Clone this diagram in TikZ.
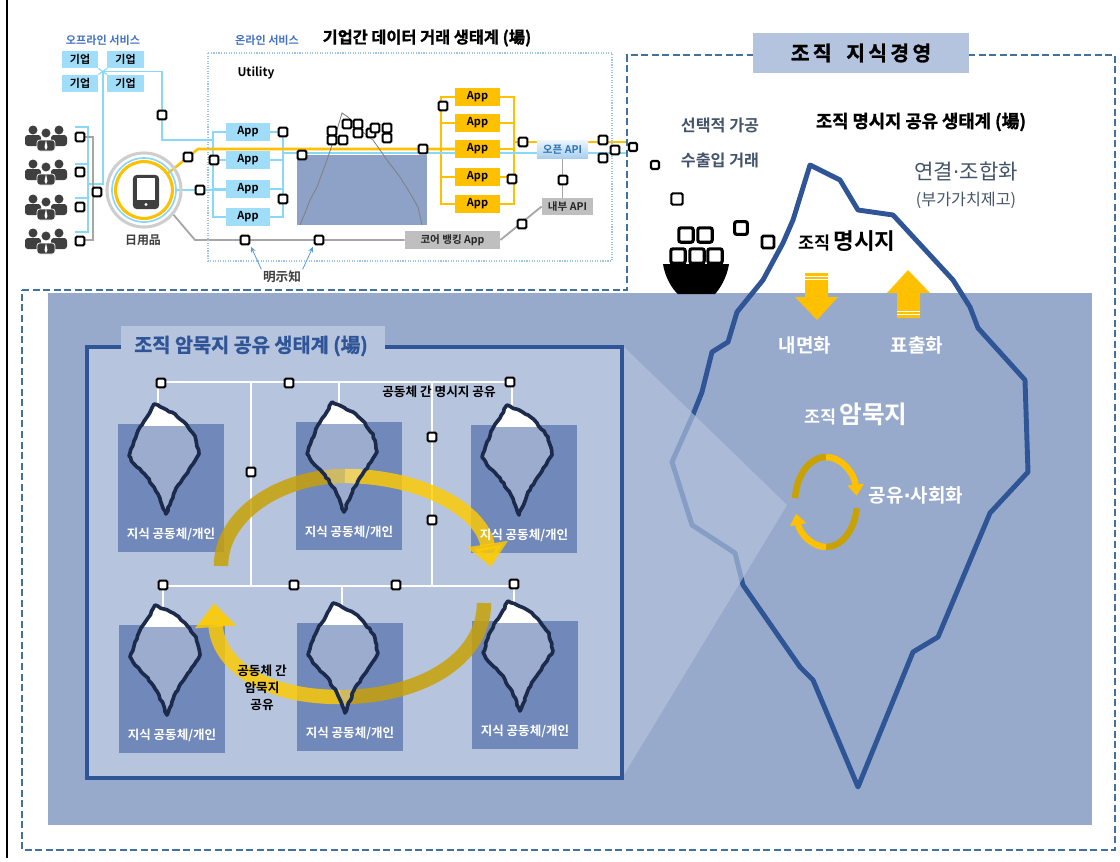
\documentclass[tikz,border=0pt]{standalone}
\usepackage{fontspec}
\setmainfont{Noto Sans CJK KR}[BoldFont={Noto Sans CJK KR Bold}]
\newfontfamily\heavy{Noto Sans CJK KR Bold}[FakeBold=1.3]
\newfontfamily\dotfont{DejaVu Sans}
\usepackage{tikz}
\usetikzlibrary{arrows.meta,positioning,calc,backgrounds,decorations.pathmorphing}
\definecolor{seablue}{HTML}{97AACB}
\definecolor{paleblue}{HTML}{B6C4DE}
\definecolor{cardblue}{HTML}{7189BA}
\definecolor{bergblue}{HTML}{2F5597}
\definecolor{bergnavy}{HTML}{1C2B4C}
\definecolor{frameblue}{HTML}{41719C}
\definecolor{titleblue}{HTML}{B4C4DF}
\definecolor{slate}{HTML}{44546A}
\definecolor{gold}{HTML}{FFC000}
\definecolor{flowgold}{HTML}{FFCC00}
\definecolor{darkgold}{HTML}{C9A100}
\definecolor{skyline}{HTML}{8AD8F8}
\definecolor{skybox}{HTML}{A0DDF8}
\definecolor{linkblue}{HTML}{4472C4}
\definecolor{apiblue}{HTML}{2E75B6}
\definecolor{apitop}{HTML}{EAF3FB}
\definecolor{apibottom}{HTML}{A9CFEE}
\definecolor{ashgrey}{HTML}{A6A6A6}
\definecolor{boxgrey}{HTML}{BFBFBF}
\definecolor{icongrey}{HTML}{3F3F3F}
\definecolor{midberg}{HTML}{8EA2C8}
\definecolor{dotblue}{HTML}{9DC3E6}
\definecolor{pointer}{HTML}{5B9BD5}
\newcommand\fsz[1]{\fontsize{#1}{#1}\selectfont}
\newcommand\middot{{\dotfont ·}}
% jagged outline of one small iceberg, tip at the origin
\newcommand\bergpath{(0,0) -- (9,4) -- (21,10) -- (30,18) -- (41,32) -- (45,50)
  -- (39,60) -- (30,73) -- (21,87) -- (12,110) -- (4,90) -- (-7,73) -- (-20,60)
  -- (-25,52) -- (-20,37) -- (-14,23) -- (-7,13) -- cycle}
\tikzset{
  blk/.style={draw=black,fill=white,line width=1.5pt,rounded corners=1pt,
    minimum size=0.22cm,inner sep=0pt},
  crate/.style={blk,line width=2.2pt,minimum size=0.36cm,rounded corners=1.5pt},
  appbox/.style={fill=#1,minimum width=1.1cm,minimum height=0.45cm,inner sep=0pt,
    font=\fsz{7.8}\bfseries},
  appbox/.default={skybox},
  firmbox/.style={fill=skybox,minimum width=0.9cm,minimum height=0.43cm,inner sep=0pt,
    font=\fsz{7.8}\bfseries},
  greybox/.style={fill=boxgrey,text=black!85,minimum height=0.43cm,inner sep=0pt,
    font=\fsz{7.5}\bfseries},
  skywire/.style={draw=skyline,line width=1.3pt},
  goldwire/.style={draw=gold,line width=1.8pt},
  greywire/.style={draw=ashgrey,line width=1.3pt},
  gridline/.style={draw=white,line width=1.3pt},
  card/.style={fill=cardblue,minimum width=2.65cm,minimum height=3.175cm,inner sep=0pt},
  cardtext/.style={text=white,font=\fsz{8.9}\bfseries,inner sep=0pt},
  flow/.style={draw=#1,line width=0.36cm,opacity=0.82},
  cycleflow/.style={draw=#1,line width=0.16cm},
  frameline/.style={draw=frameblue,line width=1.3pt,dash pattern=on 5pt off 2.5pt},
  bigberg/.style={draw=bergblue,line width=3.5pt,line join=round},
  smallberg/.style={draw=bergnavy,line width=2.6pt,line join=round,
    decorate,decoration={random steps,segment length=2.5pt,amplitude=0.5pt}},
  slatetext/.style={text=slate,font=\fsz{11.5}\bfseries},
  seatext/.style={text=white,font=\fsz{13.5}\bfseries},
}
\begin{document}
\begin{tikzpicture}[x=0.025cm,y=-0.025cm]
  \useasboundingbox (0,0) rectangle (1120,862);
  \draw[black,line width=0.9pt] (7,0) -- (7,858);

  % dashed frame, sea and title
  \draw[frameline] (22,290) -- (627,290) -- (627,55) -- (1115,55) -- (1115,850) -- (22,850) -- cycle;
  \fill[seablue] (48,293) rectangle (1092,825);
  \node[fill=titleblue,minimum width=5.4cm,minimum height=1cm,font=\fsz{14.5}\heavy] (kmtitle)
    at (861,53) {\addfontfeature{LetterSpace=16}조직\,\, 지식경영};

  % big iceberg
  \draw[bigberg] (810,165) -- (840,180) -- (858,210) -- (893,215) -- (953,280) -- (970,307)
    -- (978,328) -- (1025,380) -- (1028,472) -- (990,513) -- (938,637) -- (913,652)
    -- (858,787) -- (813,680) -- (800,667) -- (743,585) -- (735,553) -- (692,525)
    -- (672,462) -- (692,417) -- (702,392) -- (712,352) -- (728,342) -- (737,312)
    -- (763,280) -- (783,243) -- (793,220) -- cycle;
  \fill[paleblue,fill opacity=0.65] (622,345) -- (787,505) -- (622,778) -- cycle;

  % internalise / externalise
  \fill[gold] (805,273) -- (828,273) -- (828,297) -- (838,297) -- (817,320) -- (795,297) -- (805,297) -- cycle;
  \draw[white,line width=0.5pt] (805,276.5) -- (828,276.5) (805,279.5) -- (828,279.5);
  \fill[gold] (908,270) -- (930,293) -- (920,293) -- (920,318) -- (897,318) -- (897,293) -- (887,293) -- cycle;
  \draw[white,line width=0.5pt] (897,311) -- (920,311) (897,314) -- (920,314);
  \node[seatext] (inward) at (805,345) {내면화};
  \node[seatext] (outward) at (917,345) {표출화};
  \node[text=white,font=\bfseries] (tacit) at (856,414) {{\fsz{12.4}조직} {\fsz{17.5}암묵지}};
  \node[seatext] (social) at (916,495) {공유\middot 사회화};
  \coordinate (cyc) at (826,502);
  \draw[cycleflow=darkgold] (cyc) ++(185:31 and 45) arc[start angle=185,end angle=270,x radius=31,y radius=45];
  \draw[cycleflow=gold,-{Triangle[length=0.28cm,width=0.4cm]}] (cyc) ++(270:31 and 45)
    arc[start angle=270,end angle=352,x radius=31,y radius=45];
  \draw[cycleflow=darkgold] (cyc) ++(8:31 and 45) arc[start angle=8,end angle=90,x radius=31,y radius=45];
  \draw[cycleflow=gold,-{Triangle[length=0.28cm,width=0.4cm]}] (cyc) ++(90:31 and 45)
    arc[start angle=90,end angle=165,x radius=31,y radius=45];

  % explicit knowledge side
  \node[slatetext] (select) at (720,125) {선택적 가공};
  \node[slatetext] (trade) at (720,160) {수출입 거래};
  \node[font=\fsz{12.6}\heavy] (extitle) at (921,122) {조직 명시지 공유 생태계 (場)};
  \node[text=slate,font=\fsz{15}] (combine) at (966,172) {연결\middot 조합화};
  \node[text=slate,font=\fsz{11.5}] (value) at (966,200) {(부가가치제고)};
  \node[font=\bfseries] (explicit) at (847,241) {{\fsz{12.4}조직} {\fsz{16}명시지}};

  % cargo ship
  \fill[black] (663,264) -- (729,264) .. controls (727,278) and (719,290) .. (715,294)
    -- (678,294) .. controls (673,290) and (665,278) .. (663,264) -- cycle;
  \foreach \p [count=\i] in {(678,256),(697,256),(715,256),(686,235),(705,235)}
    \node[crate] (box\i) at \p {};
  \node[blk,minimum size=0.2cm] (fly1) at (633,147) {};
  \node[blk,minimum size=0.2cm] (fly2) at (655,165) {};
  \node[blk,minimum size=0.28cm] (fly3) at (677,199) {};
  \node[crate,minimum size=0.32cm] (fly4) at (741,228) {};
  \node[blk,minimum size=0.3cm,line width=2pt] (fly5) at (768,242) {};

  % tacit knowledge ecosystem
  \draw[bergblue,line width=2.2pt,fill=paleblue] (87,347) rectangle (622,778);
  \node[fill=paleblue,minimum width=6.58cm,minimum height=0.7cm,inner sep=0pt,anchor=north west] (tab) at (121,326) {};
  \node[text=bergblue,font=\fsz{14}\heavy] (tacittitle) at (251,346) {조직 암묵지 공유 생태계 (場)};
  \draw[gridline] (158,382) -- (512,382) (251,382) -- (251,586) (432,382) -- (432,586)
    (163,586) -- (514,586);
  \draw[gridline] (158,382) -- (158,410) (339,382) -- (339,410) (512,382) -- (512,410)
    (163,586) -- (163,612) (342,586) -- (342,612) (514,586) -- (514,612);
  \foreach \cx/\cy [count=\k] in {171/488,349/486,524/489,172/689,350/687,525/685}
    \node[card] (card\k) at (\cx,\cy) {};
  \draw[flow=darkgold] (221,566) .. controls (221,515) and (280,476) .. (345,476);
  \draw[flow=flowgold,-{Triangle[length=0.58cm,width=1cm]}] (345,476) .. controls (420,476) and (482,510) .. (491,567);
  \draw[flow=darkgold] (484,603) .. controls (484,660) and (420,697) .. (340,697);
  \draw[flow=flowgold,-{Triangle[length=0.6cm,width=1cm]}] (340,697) .. controls (260,697) and (218,662) .. (214,603);
  \foreach \cx/\cy in {171/488,349/486,524/489,172/689,350/687,525/685}{
    \begin{scope}[shift={(\cx-17,\cy-84)}]
      \fill[white,fill opacity=0.3] \bergpath;
      \begin{scope}
        \clip (-30,-5) rectangle (50,21);
        \fill[white] \bergpath;
      \end{scope}
      \draw[smallberg] \bergpath;
    \end{scope}
  }
  \foreach \k in {1,...,6}
    \node[cardtext,above=0.28cm of card\k.south] (who\k) {지식 공동체/개인};
  \foreach \p [count=\i] in {(161,383),(289,383),(510,382),(251,472),(432,437),(432,520),
      (163,585),(294,585),(396,585),(514,584)}
    \node[blk] (g\i) at \p {};
  \node[font=\fsz{9}\bfseries] (exshare) at (439,392) {공동체 간 명시지 공유};
  \node[font=\fontsize{9}{12}\selectfont\bfseries,align=center,inner sep=0pt] (tacitshare)
    at (262,688) {공동체 간\\암묵지\\공유};

  % inter-company data market
  \node[text=linkblue,font=\fsz{7.9}\bfseries] (offline) at (103,40) {오프라인 서비스};
  \node[text=linkblue,font=\fsz{7.9}\bfseries] (online) at (267,40) {온라인 서비스};
  \node[font=\fsz{11.6}\heavy] (b2btitle) at (427,38) {기업간 데이터 거래 생태계 (場)};
  \draw[dotblue,line width=0.8pt,densely dotted] (208,53) rectangle (612,261);
  \node[font=\fsz{8.5}\bfseries] (utility) at (256,73) {Utility};

  \node[firmbox] (firm1) at (80,59.5) {기업};
  \node[firmbox] (firm2) at (125.5,59.5) {기업};
  \node[firmbox] (firm3) at (80,83.5) {기업};
  \node[firmbox] (firm4) at (125.5,83.5) {기업};
  \coordinate (hub) at (103,71.5);

  \foreach \y in {125,159,194,228}{
    \fill[icongrey] (33,\y+5) circle[radius=4.5] (59,\y+5) circle[radius=4.5];
    \fill[icongrey,rounded corners=2pt] (25,\y+21) rectangle (41,\y+10);
    \fill[icongrey,rounded corners=2pt] (51,\y+21) rectangle (67,\y+10);
    \filldraw[fill=icongrey,draw=white,line width=0.5pt] (46,\y+8) circle[radius=5];
    \filldraw[fill=icongrey,draw=white,line width=0.5pt,rounded corners=2pt] (37,\y+26) rectangle (55,\y+15);
    \fill[white] (46,\y+15) -- (44.5,\y+22) -- (46,\y+25) -- (47.5,\y+22) -- cycle;
  }
  \foreach \y [count=\k] in {137,172,207,241}
    \node[blk] (crowd\k) at (80,\y) {};

  \node[circle,draw=ashgrey!55,line width=2.2pt,minimum size=1.85cm] (greyring) at (144,190) {};
  \node[circle,draw=skyline,line width=1.2pt,minimum size=1.6cm] (skyring) at (144,190) {};
  \node[circle,draw=gold,line width=2.2pt,minimum size=1.42cm] (goldring) at (144,190) {};
  \node[fill=icongrey,rounded corners=2.5pt,minimum width=0.65cm,minimum height=0.85cm] (phone) at (146,192) {};
  \node[fill=white,minimum width=0.45cm,minimum height=0.55cm,inner sep=0pt] (screen) at (146,189) {};
  \fill[white] (146,204.5) circle[radius=1.7];
  \node[font=\fsz{8.5}\bfseries,text=icongrey] (goods) at (143,240) {日用品};

  \foreach \y [count=\k] in {132,160,189,217}
    \node[appbox] (la\k) at (248,\y) {App};
  \foreach \y [count=\k] in {97,123,149,177,204}
    \node[appbox=gold] (ya\k) at (477.5,\y) {App};
  \node[top color=apitop,bottom color=apibottom,minimum width=1.28cm,minimum height=0.43cm,
    inner sep=0pt,text=apiblue,font=\fsz{7.5}\bfseries] (api) at (562.5,149.5) {오픈 API};
  \node[greybox,minimum width=1.28cm] (iapi) at (567.5,206.5) {내부 API};
  \node[greybox,minimum width=2.38cm] (core) at (452.5,240) {코어 뱅킹 App};

  \fill[midberg] (297,155) rectangle (427,225);
  \draw[gray,line width=0.6pt] (300,225) -- (305,213) -- (310,200) -- (317,187) -- (327,160)
    -- (337,130) -- (342,113) -- (348,117) -- (360,130) -- (373,140) -- (387,160)
    -- (400,177) -- (410,193) -- (418,207) -- (422,225);

  \begin{scope}[on background layer]
    \draw[skywire,line width=0.8pt] (firm1.south east) -- (firm4.north west);
    \draw[skywire,line width=0.8pt] (firm2.south west) -- (firm3.north east);
    \draw[skywire] (hub) -- (162,71.5) -- (162,140) -- (213,140);
    \draw[skywire] (75,127) -- (88,127) -- (88,232) -- (75,232);
    \draw[skywire] (75,164) -- (88,164) (75,198) -- (88,198);
    \draw[skywire] (88,184) -- (103,184) -- (hub);
    \draw[greywire] (84,137) -- (93,137) -- (93,240) -- (84,240);
    \draw[skywire] (la1.west) -- ++(-13,0) |- (la4.west);
    \draw[skywire] (la1.east) -- ++(13,0) |- (la4.east);
    \foreach \k in {2,3}
      \draw[skywire] (la\k.west) -- ++(-13,0) (la\k.east) -- ++(13,0);
    \draw[goldwire] (ya1.west) -- ++(-14,0) |- (ya5.west);
    \draw[goldwire] (ya1.east) -- ++(14,0) |- (ya5.east);
    \foreach \k in {2,3,4}
      \draw[goldwire] (ya\k.west) -- ++(-14,0) (ya\k.east) -- ++(14,0);
    \coordinate (rb) at (283,153);
    \coordinate (yb) at (513,142);
    \coordinate (ybend) at (198,149);
    \draw[skywire] (rb) -- (rb -| api.west);
    \draw[goldwire] (goldring.35) -- (ybend) -- (ybend -| ya3.west);
    \draw[skywire] (skyring.east) -- (skyring.east -| la3.west);
    \draw[greywire] (greyring.-40) -- (195,240) -- (core.west);
    \draw[goldwire] (yb) -- (yb -| api.west);
    \draw[goldwire] (api.east |- yb) -- (627,142);
    \draw[skywire] (api.east |- rb) -- (627,153);
    \draw[greywire] (api.south) -- (api.south |- iapi.north);
    \draw[greywire] (core.east) -- (iapi.west);
  \end{scope}

  \foreach \p [count=\i] in {(97,192),(162,115),(283,132),(214,160),(200,190),(188,157),
      (283,199),(302,155),(423,149),(443,106),(512,179),(523,142),(603,140),(615,150),
      (603,158),(563,180),(522,224),(245,240),(319,240)}
    \node[blk] (d\i) at \p {};
  \foreach \p [count=\i] in {(332,131),(332,140),(343,140),(347,124),(358,124),(358,133),
      (371,133),(375,128),(387,128),(387,138)}
    \node[blk] (cl\i) at \p {};

  \node[font=\fsz{9}\bfseries,text=icongrey,inner sep=1pt] (known) at (282,277) {明示知};
  \draw[pointer,line width=0.6pt,-{Stealth[length=4pt,width=3.5pt]},shorten >=1pt]
    (known.north west) -- (d18.south east);
  \draw[pointer,line width=0.6pt,-{Stealth[length=4pt,width=3.5pt]},shorten >=1pt]
    (known.north east) -- (d19.south west);
\end{tikzpicture}
\end{document}
